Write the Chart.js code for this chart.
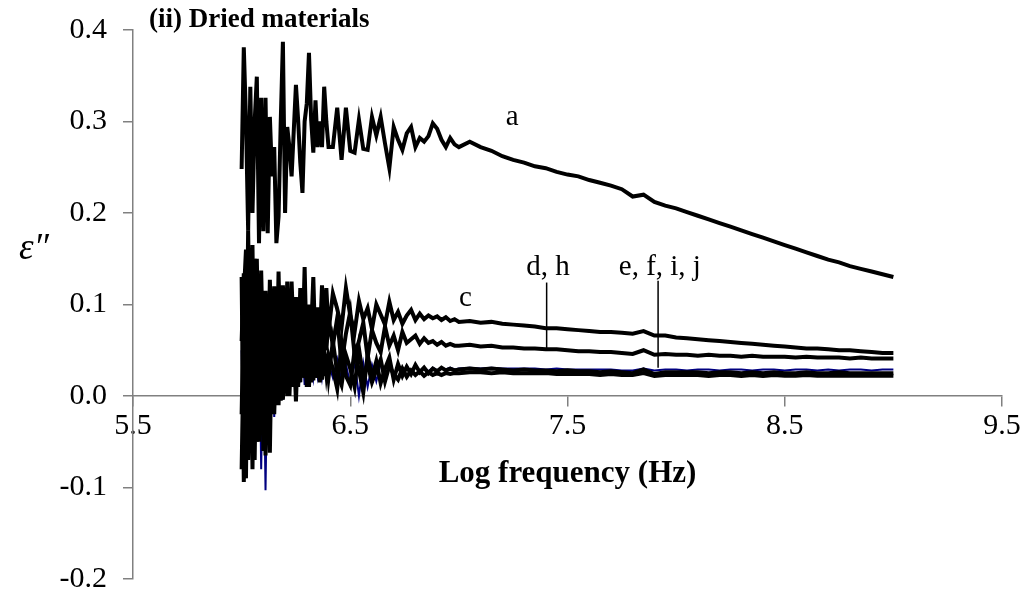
<!DOCTYPE html>
<html lang="en">
  <head>
    <meta charset="UTF-8" />
    <title>dried materials | loss factor</title>
    <style>
      html, body { margin: 0; padding: 0; background: #fff; }
      #wrap { width: 1029px; height: 596px; }
    </style>
  </head>
  <body>
    <div id="wrap"><canvas id="lossChart" width="1029" height="596"></canvas></div>

    <script src="https://cdn.jsdelivr.net/npm/chart.js"></script>

    <script>
      // log frequency (Hz)
      const logFreq = [
        6.00, 6.01, 6.02, 6.03, 6.04, 6.05, 6.06, 6.07, 6.08, 6.09,
        6.10, 6.11, 6.12, 6.13, 6.14, 6.15, 6.16, 6.17, 6.18, 6.19,
        6.20, 6.21, 6.22, 6.23, 6.24, 6.25, 6.26, 6.27, 6.28, 6.29,
        6.30, 6.31, 6.32, 6.33, 6.34, 6.35, 6.36, 6.37, 6.38, 6.39,
        6.40,
        6.42, 6.44, 6.46, 6.48, 6.50, 6.52, 6.54, 6.56, 6.58, 6.60,
        6.62, 6.64, 6.66, 6.68, 6.70, 6.72, 6.74, 6.76, 6.78, 6.80,
        6.82, 6.84, 6.86, 6.88, 6.90, 6.92, 6.94, 6.96, 6.98, 7.00,
        7.05, 7.10, 7.15, 7.20, 7.25, 7.30, 7.35, 7.40, 7.45, 7.50,
        7.55, 7.60, 7.65, 7.70, 7.75, 7.80, 7.85, 7.90, 7.95, 8.00,
        8.05, 8.10, 8.15, 8.20, 8.25, 8.30, 8.35, 8.40, 8.45, 8.50,
        8.55, 8.60, 8.65, 8.70, 8.75, 8.80, 8.85, 8.90, 8.95, 9.00,
      ];

      const seriesA = [
        0.248, 0.381, 0.302, 0.181, 0.338, 0.200, 0.300, 0.349, 0.167, 0.326,
        0.180, 0.326, 0.178, 0.305, 0.240, 0.272, 0.167, 0.196, 0.300, 0.387,
        0.200, 0.294, 0.272, 0.240, 0.290, 0.340, 0.302, 0.255, 0.222, 0.300,
        0.320, 0.375, 0.302, 0.266, 0.323, 0.272, 0.300, 0.272, 0.338, 0.300,
        0.272,
        0.272, 0.315, 0.258, 0.315, 0.268, 0.266, 0.302, 0.270, 0.269, 0.305,
        0.285, 0.305, 0.276, 0.249, 0.294, 0.280, 0.269, 0.287, 0.294, 0.272,
        0.282, 0.278, 0.284, 0.298, 0.292, 0.280, 0.272, 0.282, 0.275, 0.272,
        0.278, 0.272, 0.268, 0.262, 0.258, 0.255, 0.251, 0.249, 0.245, 0.242,
        0.240, 0.236, 0.233, 0.230, 0.226, 0.218, 0.220, 0.212, 0.208, 0.205,
        0.201, 0.197, 0.193, 0.189, 0.185, 0.181, 0.177, 0.173, 0.169, 0.165,
        0.161, 0.157, 0.153, 0.149, 0.146, 0.142, 0.139, 0.136, 0.133, 0.130,
      ];

      const seriesC = [
        0.060, 0.134, -0.020, 0.181, 0.020, 0.165, -0.030, 0.150, 0.010, 0.137,
        0.030, 0.115, 0.000, 0.127, 0.040, 0.120, 0.010, 0.136, 0.030, 0.121,
        0.050, 0.125, 0.020, 0.125, 0.060, 0.108, 0.030, 0.118, 0.050, 0.141,
        0.040, 0.100, 0.070, 0.130, 0.045, 0.097, 0.060, 0.121, 0.065, 0.118,
        0.070,
        0.112, 0.095, 0.075, 0.118, 0.088, 0.070, 0.104, 0.084, 0.096, 0.073,
        0.100, 0.089, 0.078, 0.103, 0.083, 0.092, 0.079, 0.088, 0.094, 0.083,
        0.090, 0.084, 0.088, 0.085, 0.087, 0.083, 0.086, 0.082, 0.084, 0.081,
        0.082, 0.080, 0.081, 0.079, 0.078, 0.077, 0.076, 0.074, 0.074, 0.073,
        0.072, 0.071, 0.070, 0.070, 0.069, 0.068, 0.071, 0.066, 0.066, 0.064,
        0.063, 0.062, 0.061, 0.060, 0.059, 0.058, 0.057, 0.056, 0.055, 0.054,
        0.053, 0.052, 0.052, 0.051, 0.050, 0.050, 0.049, 0.048, 0.047, 0.047,
      ];

      const seriesDH = [
        -0.020, 0.110, 0.160, -0.050, 0.140, 0.020, 0.150, -0.030, 0.120, -0.010,
        0.100, -0.020, 0.090, 0.010, 0.105, -0.010, 0.090, 0.020, 0.110, 0.000,
        0.085, 0.030, 0.095, 0.010, 0.080, 0.040, 0.100, 0.030, 0.090, 0.045,
        0.080, 0.036, 0.095, 0.040, 0.085, 0.050, 0.090, 0.045, 0.080, 0.050,
        0.085,
        0.055, 0.085, 0.035, 0.068, 0.092, 0.045, 0.060, 0.080, 0.042, 0.072,
        0.058, 0.048, 0.076, 0.055, 0.066, 0.050, 0.070, 0.058, 0.062, 0.066,
        0.057, 0.063, 0.058, 0.060, 0.056, 0.059, 0.055, 0.057, 0.055, 0.055,
        0.056, 0.054, 0.055, 0.053, 0.053, 0.052, 0.052, 0.051, 0.051, 0.050,
        0.049, 0.049, 0.048, 0.048, 0.047, 0.046, 0.050, 0.045, 0.046, 0.045,
        0.045, 0.044, 0.045, 0.044, 0.044, 0.043, 0.044, 0.043, 0.043, 0.043,
        0.042, 0.043, 0.042, 0.042, 0.042, 0.041, 0.042, 0.041, 0.041, 0.041,
      ];

      const seriesEF = [
        0.130, -0.094, 0.100, -0.070, 0.090, -0.080, 0.110, -0.050, 0.080, -0.040,
        0.090, -0.065, 0.070, -0.062, 0.085, -0.020, 0.060, -0.010, 0.075, -0.004,
        0.065, 0.000, 0.070, 0.010, 0.055, -0.006, 0.060, 0.015, 0.070, 0.020,
        0.055, 0.010, 0.060, 0.017, 0.050, 0.020, 0.055, 0.018, 0.050, 0.025,
        0.045,
        0.030, 0.008, 0.058, 0.022, 0.012, 0.050, 0.028, 0.004, 0.045, 0.020,
        0.038, 0.014, 0.030, 0.042, 0.018, 0.035, 0.022, 0.032, 0.024, 0.034,
        0.026, 0.031, 0.025, 0.030, 0.027, 0.031, 0.028, 0.030, 0.028, 0.029,
        0.030, 0.029, 0.030, 0.029, 0.028, 0.029, 0.028, 0.028, 0.027, 0.028,
        0.027, 0.027, 0.026, 0.027, 0.026, 0.025, 0.029, 0.024, 0.026, 0.026,
        0.026, 0.026, 0.025, 0.026, 0.026, 0.025, 0.026, 0.025, 0.026, 0.025,
        0.025, 0.026, 0.025, 0.025, 0.026, 0.025, 0.025, 0.025, 0.025, 0.025,
      ];

      const seriesIJ = [
        -0.080, 0.060, -0.090, 0.120, -0.060, 0.130, -0.070, 0.090, -0.050, 0.110,
        -0.060, 0.080, -0.030, 0.090, -0.010, 0.070, 0.000, 0.080, -0.005, 0.060,
        0.010, 0.075, 0.000, 0.060, 0.015, 0.070, 0.010, 0.050, 0.020, 0.060,
        0.010, 0.055, 0.015, 0.050, 0.020, 0.045, 0.015, 0.050, 0.022, 0.045,
        0.020,
        0.060, 0.025, 0.012, 0.045, 0.030, 0.010, 0.052, 0.020, 0.035, 0.015,
        0.028, 0.040, 0.016, 0.033, 0.024, 0.018, 0.030, 0.021, 0.028, 0.023,
        0.027, 0.022, 0.026, 0.023, 0.025, 0.023, 0.025, 0.024, 0.025, 0.025,
        0.026, 0.026, 0.025, 0.026, 0.025, 0.025, 0.025, 0.025, 0.024, 0.024,
        0.024, 0.024, 0.023, 0.024, 0.023, 0.023, 0.025, 0.022, 0.023, 0.023,
        0.023, 0.023, 0.022, 0.023, 0.023, 0.022, 0.023, 0.022, 0.023, 0.022,
        0.022, 0.023, 0.022, 0.022, 0.022, 0.022, 0.022, 0.022, 0.022, 0.022,
      ];

      // the one navy trace, mostly hidden under the black ones
      const seriesNavy = [
        0.050, -0.060, 0.120, -0.040, 0.100, -0.060, 0.080, -0.040, 0.100, -0.080,
        0.070, -0.103, 0.060, -0.030, 0.070, -0.023, 0.060, -0.005, 0.050, -0.004,
        0.055, 0.005, 0.045, 0.010, 0.050, 0.007, 0.045, 0.015, 0.050, 0.012,
        0.045, 0.018, 0.040, 0.020, 0.042, 0.022, 0.040, 0.020, 0.038, 0.024,
        0.036,
        0.020, 0.040, 0.015, 0.035, 0.012, 0.038, 0.000, 0.036, 0.010, 0.034,
        0.016, 0.036, 0.020, 0.034, 0.022, 0.033, 0.024, 0.033, 0.025, 0.032,
        0.026, 0.031, 0.027, 0.031, 0.028, 0.031, 0.029, 0.031, 0.029, 0.030,
        0.031, 0.030, 0.031, 0.030, 0.030, 0.030, 0.030, 0.029, 0.030, 0.029,
        0.029, 0.029, 0.029, 0.029, 0.028, 0.028, 0.030, 0.028, 0.029, 0.029,
        0.028, 0.029, 0.029, 0.028, 0.029, 0.029, 0.028, 0.029, 0.029, 0.028,
        0.029, 0.029, 0.028, 0.029, 0.028, 0.029, 0.029, 0.028, 0.029, 0.029,
      ];

      const xTicks = [5.5, 6.5, 7.5, 8.5, 9.5];
      const yTicks = [-0.2, -0.1, 0.0, 0.1, 0.2, 0.3, 0.4];

      // curve labels (in data units) and their leader lines
      const curveLabels = ["a", "c", "d, h", "e, f, i, j"];
      const labelX = [7.245, 7.03, 7.41, 7.925];
      const labelY = [0.304, 0.107, 0.141, 0.141];
      const leaderX = [7.404, 7.917];
      const leaderTop = [0.124, 0.126];
      const leaderBottom = [0.052, 0.031];

      const serif = "'Liberation Serif', 'Times New Roman', serif";
      const axisGrey = "#808080";

      const toPoints = (arr) => logFreq.map((x, i) => ({ x: x, y: arr[i] }));

      const trace = (label, arr, color, width) => ({
        label: label,
        data: toPoints(arr),
        borderColor: color,
        borderWidth: width,
        pointRadius: 0,
        tension: 0,
        fill: false,
      });

      const textLayer = {
        id: "textLayer",
        afterDraw(chart) {
          const ctx = chart.ctx;
          const area = chart.chartArea;
          const xs = chart.scales.x;
          const ys = chart.scales.y;
          ctx.save();
          ctx.fillStyle = "#000";

          ctx.font = "bold 27px " + serif;
          ctx.textAlign = "left";
          ctx.textBaseline = "middle";
          ctx.fillText("(ii) Dried materials", area.left + 16, area.top - 10);

          ctx.font = "bold 31px " + serif;
          ctx.textAlign = "center";
          ctx.fillText("Log frequency (Hz)", (area.left + area.right) / 2, ys.getPixelForValue(0) + 78);

          ctx.font = "italic 37px " + serif;
          ctx.fillText("\u03B5\u2033", 34, ys.getPixelForValue(0.16));

          ctx.font = "29px " + serif;
          curveLabels.forEach((t, i) => {
            ctx.fillText(t, xs.getPixelForValue(labelX[i]), ys.getPixelForValue(labelY[i]));
          });

          ctx.strokeStyle = "#000";
          ctx.lineWidth = 1.5;
          leaderX.forEach((lx, i) => {
            const px = xs.getPixelForValue(lx);
            ctx.beginPath();
            ctx.moveTo(px, ys.getPixelForValue(leaderTop[i]));
            ctx.lineTo(px, ys.getPixelForValue(leaderBottom[i]));
            ctx.stroke();
          });
          ctx.restore();
        },
      };

      const noEdgePadding = (s) => {
        s.paddingTop = 0;
        s.paddingBottom = 0;
        s.paddingLeft = 0;
        s.paddingRight = 0;
      };

      const ctx = document.getElementById("lossChart");

      new Chart(ctx, {
        type: "line",
        data: {
          datasets: [
            trace("a", seriesA, "#000000", 4),
            trace("c", seriesC, "#000000", 4),
            trace("d, h", seriesDH, "#000000", 4),
            trace("e, f", seriesEF, "#000000", 4),
            trace("i, j", seriesIJ, "#000000", 4),
            trace("navy", seriesNavy, "#000080", 2),
          ],
        },
        options: {
          responsive: false,
          animation: false,
          layout: { padding: { left: 0, top: 30, right: 27, bottom: 17 } },
          plugins: {
            legend: { display: false },
            tooltip: { enabled: false },
          },
          scales: {
            x: {
              type: "linear",
              position: { y: 0 },
              min: 5.5,
              max: 9.5,
              afterBuildTicks: (s) => { s.ticks = xTicks.map((v) => ({ value: v })); },
              afterFit: noEdgePadding,
              ticks: {
                color: "#000",
                font: { family: serif, size: 30 },
                padding: 2,
                maxRotation: 0,
                callback: (v) => v.toFixed(1),
              },
              grid: {
                drawOnChartArea: false,
                drawTicks: true,
                tickLength: 10,
                color: axisGrey,
                lineWidth: 1.5,
              },
              border: { color: axisGrey, width: 1.5 },
            },
            y: {
              min: -0.2,
              max: 0.4,
              afterBuildTicks: (s) => { s.ticks = yTicks.map((v) => ({ value: v })); },
              afterFit: (s) => {
                noEdgePadding(s);
                s.width = 133;
              },
              ticks: {
                color: "#000",
                font: { family: serif, size: 30 },
                padding: 16,
                callback: (v) => v.toFixed(1),
              },
              grid: {
                drawOnChartArea: false,
                drawTicks: true,
                tickLength: 10,
                color: axisGrey,
                lineWidth: 1.5,
              },
              border: { color: axisGrey, width: 1.5 },
            },
          },
        },
        plugins: [textLayer],
      });
    </script>
  </body>
</html>
